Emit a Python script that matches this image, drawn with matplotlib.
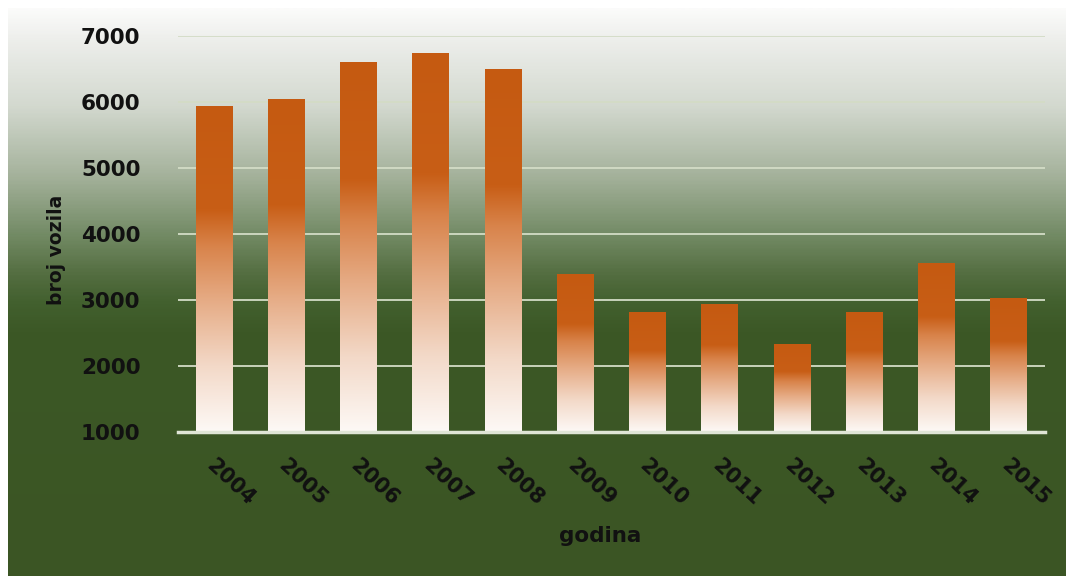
import numpy as np
import matplotlib
matplotlib.use('Agg')
import matplotlib.pyplot as plt
from matplotlib.colors import LinearSegmentedColormap
from matplotlib.transforms import ScaledTranslation

# Podaci
godine = ['2004', '2005', '2006', '2007', '2008', '2009',
          '2010', '2011', '2012', '2013', '2014', '2015']
broj_vozila = [5940, 6050, 6610, 6750, 6495, 3400,
               2815, 2935, 2335, 2815, 3565, 3030]
y_ticks = [1000, 2000, 3000, 4000, 5000, 6000, 7000]

W, H = 1066, 576
fig = plt.figure(figsize=(W / 100, H / 100), dpi=100, facecolor='white')

# Pozadina - gradijent od bijele prema tamno zelenoj
bg_cmap = LinearSegmentedColormap.from_list('bg', [
    (0.00, '#fbfbfa'),
    (0.05, '#eeefec'),
    (0.17, '#d3d9cf'),
    (0.29, '#a6b39d'),
    (0.40, '#728a64'),
    (0.47, '#536d40'),
    (0.52, '#42602e'),
    (0.57, '#3c5826'),
    (1.00, '#3b5524'),
])
bg = fig.add_axes([8 / W, 0, 1 - 8 / W, 1 - 8 / H], zorder=-1)
bg.imshow(np.linspace(0, 1, 400).reshape(-1, 1), cmap=bg_cmap,
          aspect='auto', extent=[0, 1, 0, 1], origin='upper')
bg.set_axis_off()

# Glavni grafikon
ax = fig.add_axes([178 / W, 1 - 432 / H, (1045 - 178) / W, (432 - 36) / H])
ax.patch.set_alpha(0)
x = np.arange(len(godine))
bars = ax.bar(x, np.array(broj_vozila) - 1000, bottom=1000, width=0.51,
              color='none', edgecolor='none', zorder=3)

# Gradijent unutar stupaca (narančasto gore, bijelo dolje)
bar_cmap = LinearSegmentedColormap.from_list('bar', [
    (0.00, '#fdf9f6'),
    (0.20, '#f3d9c8'),
    (0.40, '#e6ac86'),
    (0.57, '#d8834a'),
    (0.68, '#c85e16'),
    (1.00, '#c55a11'),
])
grad = np.linspace(0, 1, 256).reshape(-1, 1)
for b in bars:
    x0, y0 = b.get_x(), b.get_y()
    im = ax.imshow(grad, cmap=bar_cmap, aspect='auto', origin='lower',
                   extent=[x0, x0 + b.get_width(), y0, y0 + b.get_height()],
                   zorder=3)
    im.set_clip_path(b)

ax.set_xlim(-0.5, len(godine) - 0.5)
ax.set_ylim(1000, 7000)
ax.set_yticks(y_ticks)
ax.set_yticklabels([str(t) for t in y_ticks])
ax.yaxis.grid(True, color='#d3dcc6', linewidth=1.3, zorder=1)
ax.set_axisbelow(True)
for s in ['top', 'right', 'left']:
    ax.spines[s].set_visible(False)
ax.spines['bottom'].set_color('#dfe5d6')
ax.spines['bottom'].set_linewidth(2.5)
ax.spines['bottom'].set_zorder(4)

ax.tick_params(axis='y', length=0, pad=27, labelsize=15.5, labelcolor='#111111')
for lab in ax.get_yticklabels():
    lab.set_fontweight('bold')

ax.set_xticks(x)
ax.set_xticklabels(godine, rotation=-43, ha='left', va='top',
                   rotation_mode='anchor', fontsize=15, fontweight='bold',
                   color='#111111')
ax.tick_params(axis='x', length=0, pad=17)
off = ScaledTranslation(2 / 100, 0, fig.dpi_scale_trans)
for lab in ax.get_xticklabels():
    lab.set_transform(lab.get_transform() + off)

fig.text(600 / W, 1 - 536 / H, 'godina', ha='center', va='center',
         fontsize=15.5, fontweight='bold', color='#111111')
fig.text(56 / W, 1 - 250 / H, 'broj vozila', ha='center', va='center',
         rotation=90, fontsize=13.5, fontweight='bold', color='#111111')

fig.savefig('out.png', dpi=100, facecolor=fig.get_facecolor())
